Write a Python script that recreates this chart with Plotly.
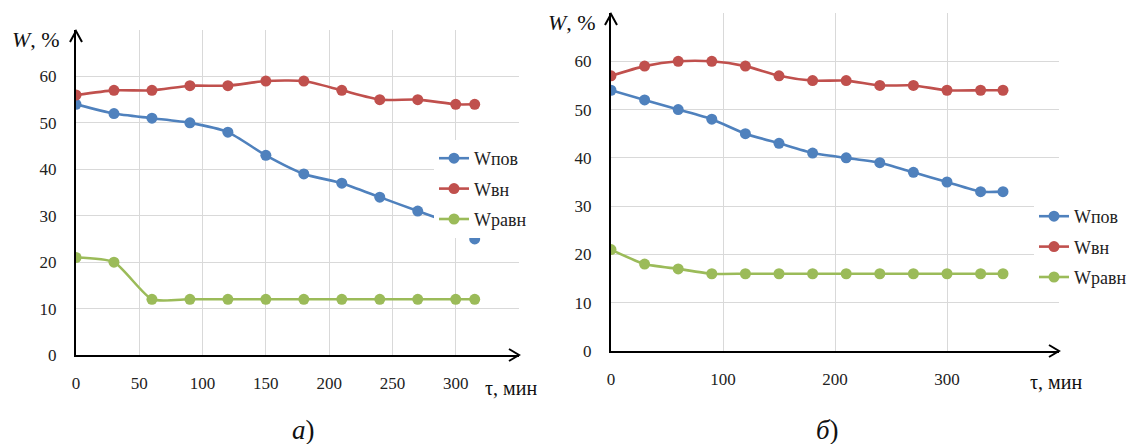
import plotly.graph_objects as go

W, H = 1138, 444

# ---- data (a) ----
tau_a = [0, 30, 60, 90, 120, 150, 180, 210, 240, 270, 300, 315]
w_pov_a = [54, 52, 51, 50, 48, 43, 39, 37, 34, 31, 28, 25]
w_vn_a = [56, 57, 57, 58, 58, 59, 59, 57, 55, 55, 54, 54]
w_ravn_a = [21, 20, 12, 12, 12, 12, 12, 12, 12, 12, 12, 12]

# ---- data (б) ----
tau_b = [0, 30, 60, 90, 120, 150, 180, 210, 240, 270, 300, 330, 350]
w_pov_b = [54, 52, 50, 48, 45, 43, 41, 40, 39, 37, 35, 33, 33]
w_vn_b = [57, 59, 60, 60, 59, 57, 56, 56, 55, 55, 54, 54, 54]
w_ravn_b = [21, 18, 17, 16, 16, 16, 16, 16, 16, 16, 16, 16, 16]

series_names = ["Wпов", "Wвн", "Wравн"]
colors = ["#4f81bd", "#c0504d", "#9bbb59"]

xticks_a = [0, 50, 100, 150, 200, 250, 300, 350]
xticks_b = [0, 100, 200, 300, 400]
yticks = [0, 10, 20, 30, 40, 50, 60, 70]

SERIF = "'Times New Roman', 'Liberation Serif', 'DejaVu Serif', serif"

fig = go.Figure()

for i, (name, ys) in enumerate(zip(series_names, [w_pov_a, w_vn_a, w_ravn_a])):
    fig.add_trace(go.Scatter(x=tau_a, y=ys, name=name, mode="lines+markers",
                             line=dict(color=colors[i], width=2.6, shape="spline", smoothing=0.6),
                             marker=dict(color=colors[i], size=11),
                             xaxis="x", yaxis="y", legend="legend", legendgroup="a" + str(i)))
for i, (name, ys) in enumerate(zip(series_names, [w_pov_b, w_vn_b, w_ravn_b])):
    fig.add_trace(go.Scatter(x=tau_b, y=ys, name=name, mode="lines+markers",
                             line=dict(color=colors[i], width=2.6, shape="spline", smoothing=0.6),
                             marker=dict(color=colors[i], size=11),
                             xaxis="x2", yaxis="y2", legend="legend2", legendgroup="b" + str(i)))

# plot-area pixel geometry
A = dict(x0=76, x1=519, y0=355, y1=30)
B = dict(x0=611, x1=1059, y0=351, y1=13)

def px(x):
    return x / W

def py(y):
    return 1 - y / H

tickfont = dict(family=SERIF, size=17, color="#222")
axis_common = dict(showgrid=True, gridcolor="#d9d9d9", gridwidth=1, zeroline=False,
                   showline=True, linecolor="black", linewidth=2, ticks="",
                   tickfont=tickfont, fixedrange=True, automargin=False)

legfont = dict(family=SERIF, size=18, color="#222")

fig.update_layout(
    width=W, height=H, margin=dict(l=0, r=0, t=0, b=0),
    paper_bgcolor="white", plot_bgcolor="white",
    font=dict(family=SERIF),
    xaxis=dict(domain=[px(A["x0"]), px(A["x1"])], range=[0, 350], tickvals=xticks_a,
               ticktext=[str(v) if v < 350 else "" for v in xticks_a], anchor="y",
               ticklabelstandoff=12, **axis_common),
    yaxis=dict(domain=[py(A["y0"]), py(A["y1"])], range=[0, 70], tickvals=yticks,
               ticktext=[str(v) if v < 70 else "" for v in yticks], anchor="x",
               ticklabelstandoff=14, **axis_common),
    xaxis2=dict(domain=[px(B["x0"]), px(B["x1"])], range=[0, 400], tickvals=xticks_b,
                ticktext=[str(v) if v < 400 else "" for v in xticks_b], anchor="y2",
                ticklabelstandoff=12, **axis_common),
    yaxis2=dict(domain=[py(B["y0"]), py(B["y1"])], range=[0, 70], tickvals=yticks,
                ticktext=[str(v) if v < 70 else "" for v in yticks], anchor="x2",
                ticklabelstandoff=14, **axis_common),
    legend=dict(x=px(434), y=py(140), xanchor="left", yanchor="top",
                bgcolor="white", font=legfont, borderwidth=0,
                tracegroupgap=4, traceorder="grouped"),
    legend2=dict(x=px(1034), y=py(198), xanchor="left", yanchor="top",
                 bgcolor="white", font=legfont, borderwidth=0,
                 tracegroupgap=4, traceorder="grouped"),
    showlegend=True,
)

# axis arrows (chevrons)
def chevron(tipx, tipy, dx1, dy1, dx2, dy2):
    path = "M {} {} L {} {} L {} {}".format(px(tipx + dx1), py(tipy + dy1), px(tipx), py(tipy),
                                           px(tipx + dx2), py(tipy + dy2))
    fig.add_shape(type="path", path=path, xref="paper", yref="paper",
                  line=dict(color="black", width=2))

for g in (A, B):
    chevron(g["x0"], g["y1"] + 1, -6, 11, 6, 11)
    chevron(g["x1"], g["y0"], -10, -6, -10, 6)

ann = []
def note(x, y, text, size):
    ann.append(dict(x=px(x), y=py(y), text=text, showarrow=False, xanchor="left",
                    yanchor="middle", xref="paper", yref="paper",
                    font=dict(family=SERIF, size=size, color="#111")))

note(10, 40, "<i>W</i>, %", 22)
note(546, 22, "<i>W</i>, %", 22)
note(483, 388, "τ, мин", 20)
note(1028, 382, "τ, мин", 20)
note(290, 430, "<i>а</i>)", 27)
note(814, 430, "<i>б</i>)", 27)
fig.update_layout(annotations=ann)

fig.write_html("out.html", config={"displayModeBar": False},
               post_script="document.body.style.margin='0';document.body.style.overflow='hidden';")
